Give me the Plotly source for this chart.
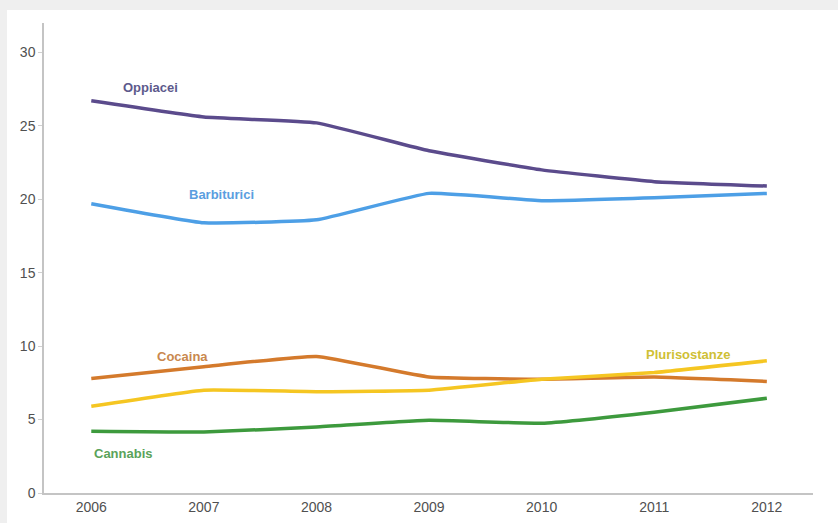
import plotly.graph_objects as go

# Years on the horizontal axis
years = [2006, 2007, 2008, 2009, 2010, 2011, 2012]

# Percent values per substance
oppiacei = [26.7, 25.6, 25.2, 23.3, 22.0, 21.2, 20.9]
barbiturici = [19.7, 18.4, 18.6, 20.4, 19.9, 20.1, 20.4]
cocaina = [7.8, 8.6, 9.3, 7.9, 7.75, 7.9, 7.6]
plurisostanze = [5.9, 7.0, 6.9, 7.0, 7.75, 8.2, 9.0]
cannabis = [4.2, 4.15, 4.5, 4.95, 4.75, 5.5, 6.45]

y_ticks = [0, 5, 10, 15, 20, 25, 30]

series = [
    ("Oppiacei", oppiacei, "#5b4b8c", "#5d5a8c", 2006.53, 27.6),
    ("Barbiturici", barbiturici, "#4d9fe6", "#5a9ee0", 2007.16, 20.3),
    ("Cocaina", cocaina, "#d47a2c", "#c9884e", 2006.81, 9.3),
    ("Plurisostanze", plurisostanze, "#f5c622", "#cfc035", 2011.30, 9.4),
    ("Cannabis", cannabis, "#3d9a3d", "#5aa35a", 2006.29, 2.7),
]

W, H = 838, 523
ml, mr, mt, mb = 44, 25, 23, 30
pw, ph = W - ml - mr, H - mt - mb

fig = go.Figure()
annotations = []
for name, vals, line_col, text_col, ax, ay in series:
    fig.add_trace(go.Scatter(
        x=years, y=vals, mode="lines", name=name,
        line=dict(color=line_col, width=3.5, shape="spline", smoothing=0.35),
        hoverinfo="x+y+name",
    ))
    annotations.append(dict(
        x=ax, y=ay, xref="x", yref="y", text=f"<b>{name}</b>",
        showarrow=False, font=dict(size=13, color=text_col,
                                   family="Liberation Sans, Arial, sans-serif"),
    ))

# white panel inside the light grey page frame (grey strip on top and left)
shapes = [dict(
    type="rect", xref="paper", yref="paper", layer="below",
    x0=(7 - ml) / pw, x1=(W - ml) / pw,
    y0=-mb / ph, y1=(H - mb - 10) / ph,
    fillcolor="white", line=dict(width=0),
)]

fig.update_layout(
    width=W, height=H,
    margin=dict(l=ml, r=mr, t=mt, b=mb, autoexpand=False),
    paper_bgcolor="#efefef",
    plot_bgcolor="rgba(0,0,0,0)",
    showlegend=False,
    annotations=annotations,
    shapes=shapes,
    font=dict(family="Liberation Sans, Arial, sans-serif", color="#555555"),
)
fig.update_xaxes(
    range=[2005.58, 2012.41], tickmode="array", tickvals=years,
    ticktext=[str(y) for y in years], automargin=False,
    showgrid=False, zeroline=False, showline=True,
    linecolor="#c4c4c4", linewidth=1.5,
    tickfont=dict(size=14, color="#505050"), ticks="", ticklen=0,
)
fig.update_yaxes(
    range=[0, 32], tickmode="array", tickvals=y_ticks, automargin=False,
    showgrid=False, zeroline=False, showline=True,
    linecolor="#c4c4c4", linewidth=1.5,
    ticks="outside", ticklen=4, tickcolor="#d0d0d0",
    tickfont=dict(size=14, color="#505050"),
)

fig.write_html("out.html")
